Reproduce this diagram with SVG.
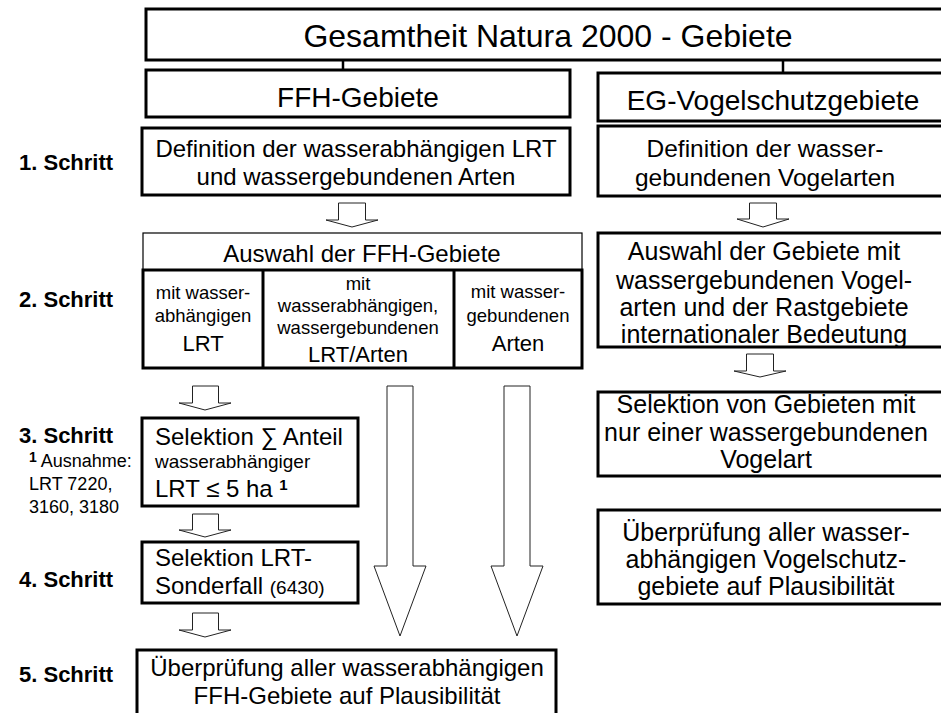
<svg xmlns="http://www.w3.org/2000/svg" width="941" height="713" viewBox="0 0 941 713">
<style>
text{font-family:"Liberation Sans",Arial,sans-serif;fill:#000}
.c{text-anchor:middle}
.b{fill:#fff;stroke:#000;stroke-width:3}
.t{fill:#fff;stroke:#000;stroke-width:1.2}
.ar{fill:#fff;stroke:#222;stroke-width:1}
.lab{font-weight:bold;font-size:22px}
</style>
<rect width="941" height="713" fill="#fff"/>
<g id="connectors">
<line x1="343" y1="60" x2="343" y2="70" stroke="#000" stroke-width="2.5"/>
<line x1="783" y1="60" x2="783" y2="73" stroke="#000" stroke-width="2.5"/>
<polygon class="ar" points="338.5,203 365.5,203 365.5,220 378,220 352,227 326,220 338.5,220"/>
<polygon class="ar" points="749.5,203 776.5,203 776.5,219 789,219 763,227 737,219 749.5,219"/>
<polygon class="ar" points="192.5,386 218.5,386 218.5,403 231,403 205,410 179,403 192.5,403"/>
<polygon class="ar" points="746.5,354 773.5,354 773.5,371 786,371 760,377 734,371 746.5,371"/>
<polygon class="ar" points="192.5,514 218.5,514 218.5,530 231,530 205,537 179,530 192.5,530"/>
<polygon class="ar" points="192.5,613 218.5,613 218.5,630 231,630 205,637 179,630 192.5,630"/>
<polygon class="ar" points="387,386 413,386 413,566 426,566 400,636 374,566 387,566"/>
<polygon class="ar" points="504,386 530,386 530,566 543,566 517,636 491,566 504,566"/>
</g>
<g id="title">
<rect class="b" x="146" y="9" width="810" height="51"/>
<text class="c" x="548" y="47" font-size="32">Gesamtheit Natura 2000 - Gebiete</text>
</g>
<g id="ffh">
<rect class="b" x="146" y="70" width="424" height="47"/>
<text class="c" x="358" y="107" font-size="28">FFH-Gebiete</text>
</g>
<g id="eg">
<rect class="b" x="598" y="73" width="360" height="48"/>
<text class="c" x="773" y="110" font-size="28">EG-Vogelschutzgebiete</text>
</g>
<g id="l1">
<rect class="b" x="142" y="128" width="428" height="67"/>
<text class="c" x="356" y="157" font-size="24">Definition der wasserabhängigen LRT</text>
<text class="c" x="356" y="185" font-size="24">und wassergebundenen Arten</text>
</g>
<g id="r1">
<rect class="b" x="598" y="126" width="360" height="70"/>
<text class="c" x="765" y="157" font-size="24.5">Definition der wasser-</text>
<text class="c" x="765" y="186" font-size="24.5">gebundenen Vogelarten</text>
</g>
<g id="l2">
<rect class="t" x="143" y="233" width="439" height="37"/>
<rect class="b" x="143" y="270" width="439" height="98"/>
<line x1="263" y1="270" x2="263" y2="368" stroke="#000" stroke-width="3"/>
<line x1="454" y1="270" x2="454" y2="368" stroke="#000" stroke-width="3"/>
<text class="c" x="362" y="262" font-size="24">Auswahl der FFH-Gebiete</text>
<text class="c" x="203" y="299" font-size="18.5">mit wasser-</text>
<text class="c" x="203" y="322" font-size="18.5">abhängigen</text>
<text class="c" x="203" y="351" font-size="22">LRT</text>
<text class="c" x="358" y="290" font-size="18.5">mit</text>
<text class="c" x="358" y="312" font-size="18.5">wasserabhängigen,</text>
<text class="c" x="358" y="334" font-size="18.5">wassergebundenen</text>
<text class="c" x="358" y="362" font-size="22">LRT/Arten</text>
<text class="c" x="518" y="298" font-size="18.5">mit wasser-</text>
<text class="c" x="518" y="322" font-size="18.5">gebundenen</text>
<text class="c" x="518" y="351" font-size="22">Arten</text>
</g>
<g id="r2">
<rect class="b" x="598" y="233" width="360" height="114"/>
<text class="c" x="764" y="260" font-size="25">Auswahl der Gebiete mit</text>
<text class="c" x="764" y="289" font-size="25">wassergebundenen Vogel-</text>
<text class="c" x="764" y="316" font-size="25">arten und der Rastgebiete</text>
<text class="c" x="764" y="343" font-size="25">internationaler Bedeutung</text>
</g>
<g id="l3">
<rect class="b" x="142" y="418" width="216" height="88"/>
<text x="155" y="445" font-size="24">Selektion ∑ Anteil</text>
<text x="155" y="468" font-size="19">wasserabhängiger</text>
<text x="155" y="497" font-size="24">LRT ≤ 5 ha <tspan font-weight="bold" font-size="15" dy="-7">1</tspan></text>
</g>
<g id="note">
<text x="29" y="467" font-size="18"><tspan font-weight="bold" font-size="14" dy="-5">1</tspan><tspan dy="5"> Ausnahme:</tspan></text>
<text x="29" y="490" font-size="18">LRT 7220,</text>
<text x="29" y="513" font-size="18">3160, 3180</text>
</g>
<g id="r3">
<rect class="b" x="598" y="392" width="360" height="84"/>
<text class="c" x="766" y="413" font-size="25">Selektion von Gebieten mit</text>
<text class="c" x="766" y="441" font-size="25">nur einer wassergebundenen</text>
<text class="c" x="766" y="468" font-size="25">Vogelart</text>
</g>
<g id="l4">
<rect class="b" x="142" y="542" width="216" height="61"/>
<text x="155" y="566" font-size="24">Selektion LRT-</text>
<text x="155" y="594" font-size="24">Sonderfall <tspan font-size="19">(6430)</tspan></text>
</g>
<g id="r4">
<rect class="b" x="598" y="510" width="360" height="94"/>
<text class="c" x="766" y="541" font-size="25">Überprüfung aller wasser-</text>
<text class="c" x="766" y="568" font-size="25">abhängigen Vogelschutz-</text>
<text class="c" x="766" y="595" font-size="25">gebiete auf Plausibilität</text>
</g>
<g id="l5">
<rect class="b" x="137" y="650" width="419" height="70"/>
<text class="c" x="347" y="676" font-size="24">Überprüfung aller wasserabhängigen</text>
<text class="c" x="347" y="704" font-size="24">FFH-Gebiete auf Plausibilität</text>
</g>
<g id="labels">
<text class="lab" x="19" y="170">1. Schritt</text>
<text class="lab" x="19" y="307">2. Schritt</text>
<text class="lab" x="19" y="443">3. Schritt</text>
<text class="lab" x="19" y="587">4. Schritt</text>
<text class="lab" x="19" y="682">5. Schritt</text>
</g>
</svg>
